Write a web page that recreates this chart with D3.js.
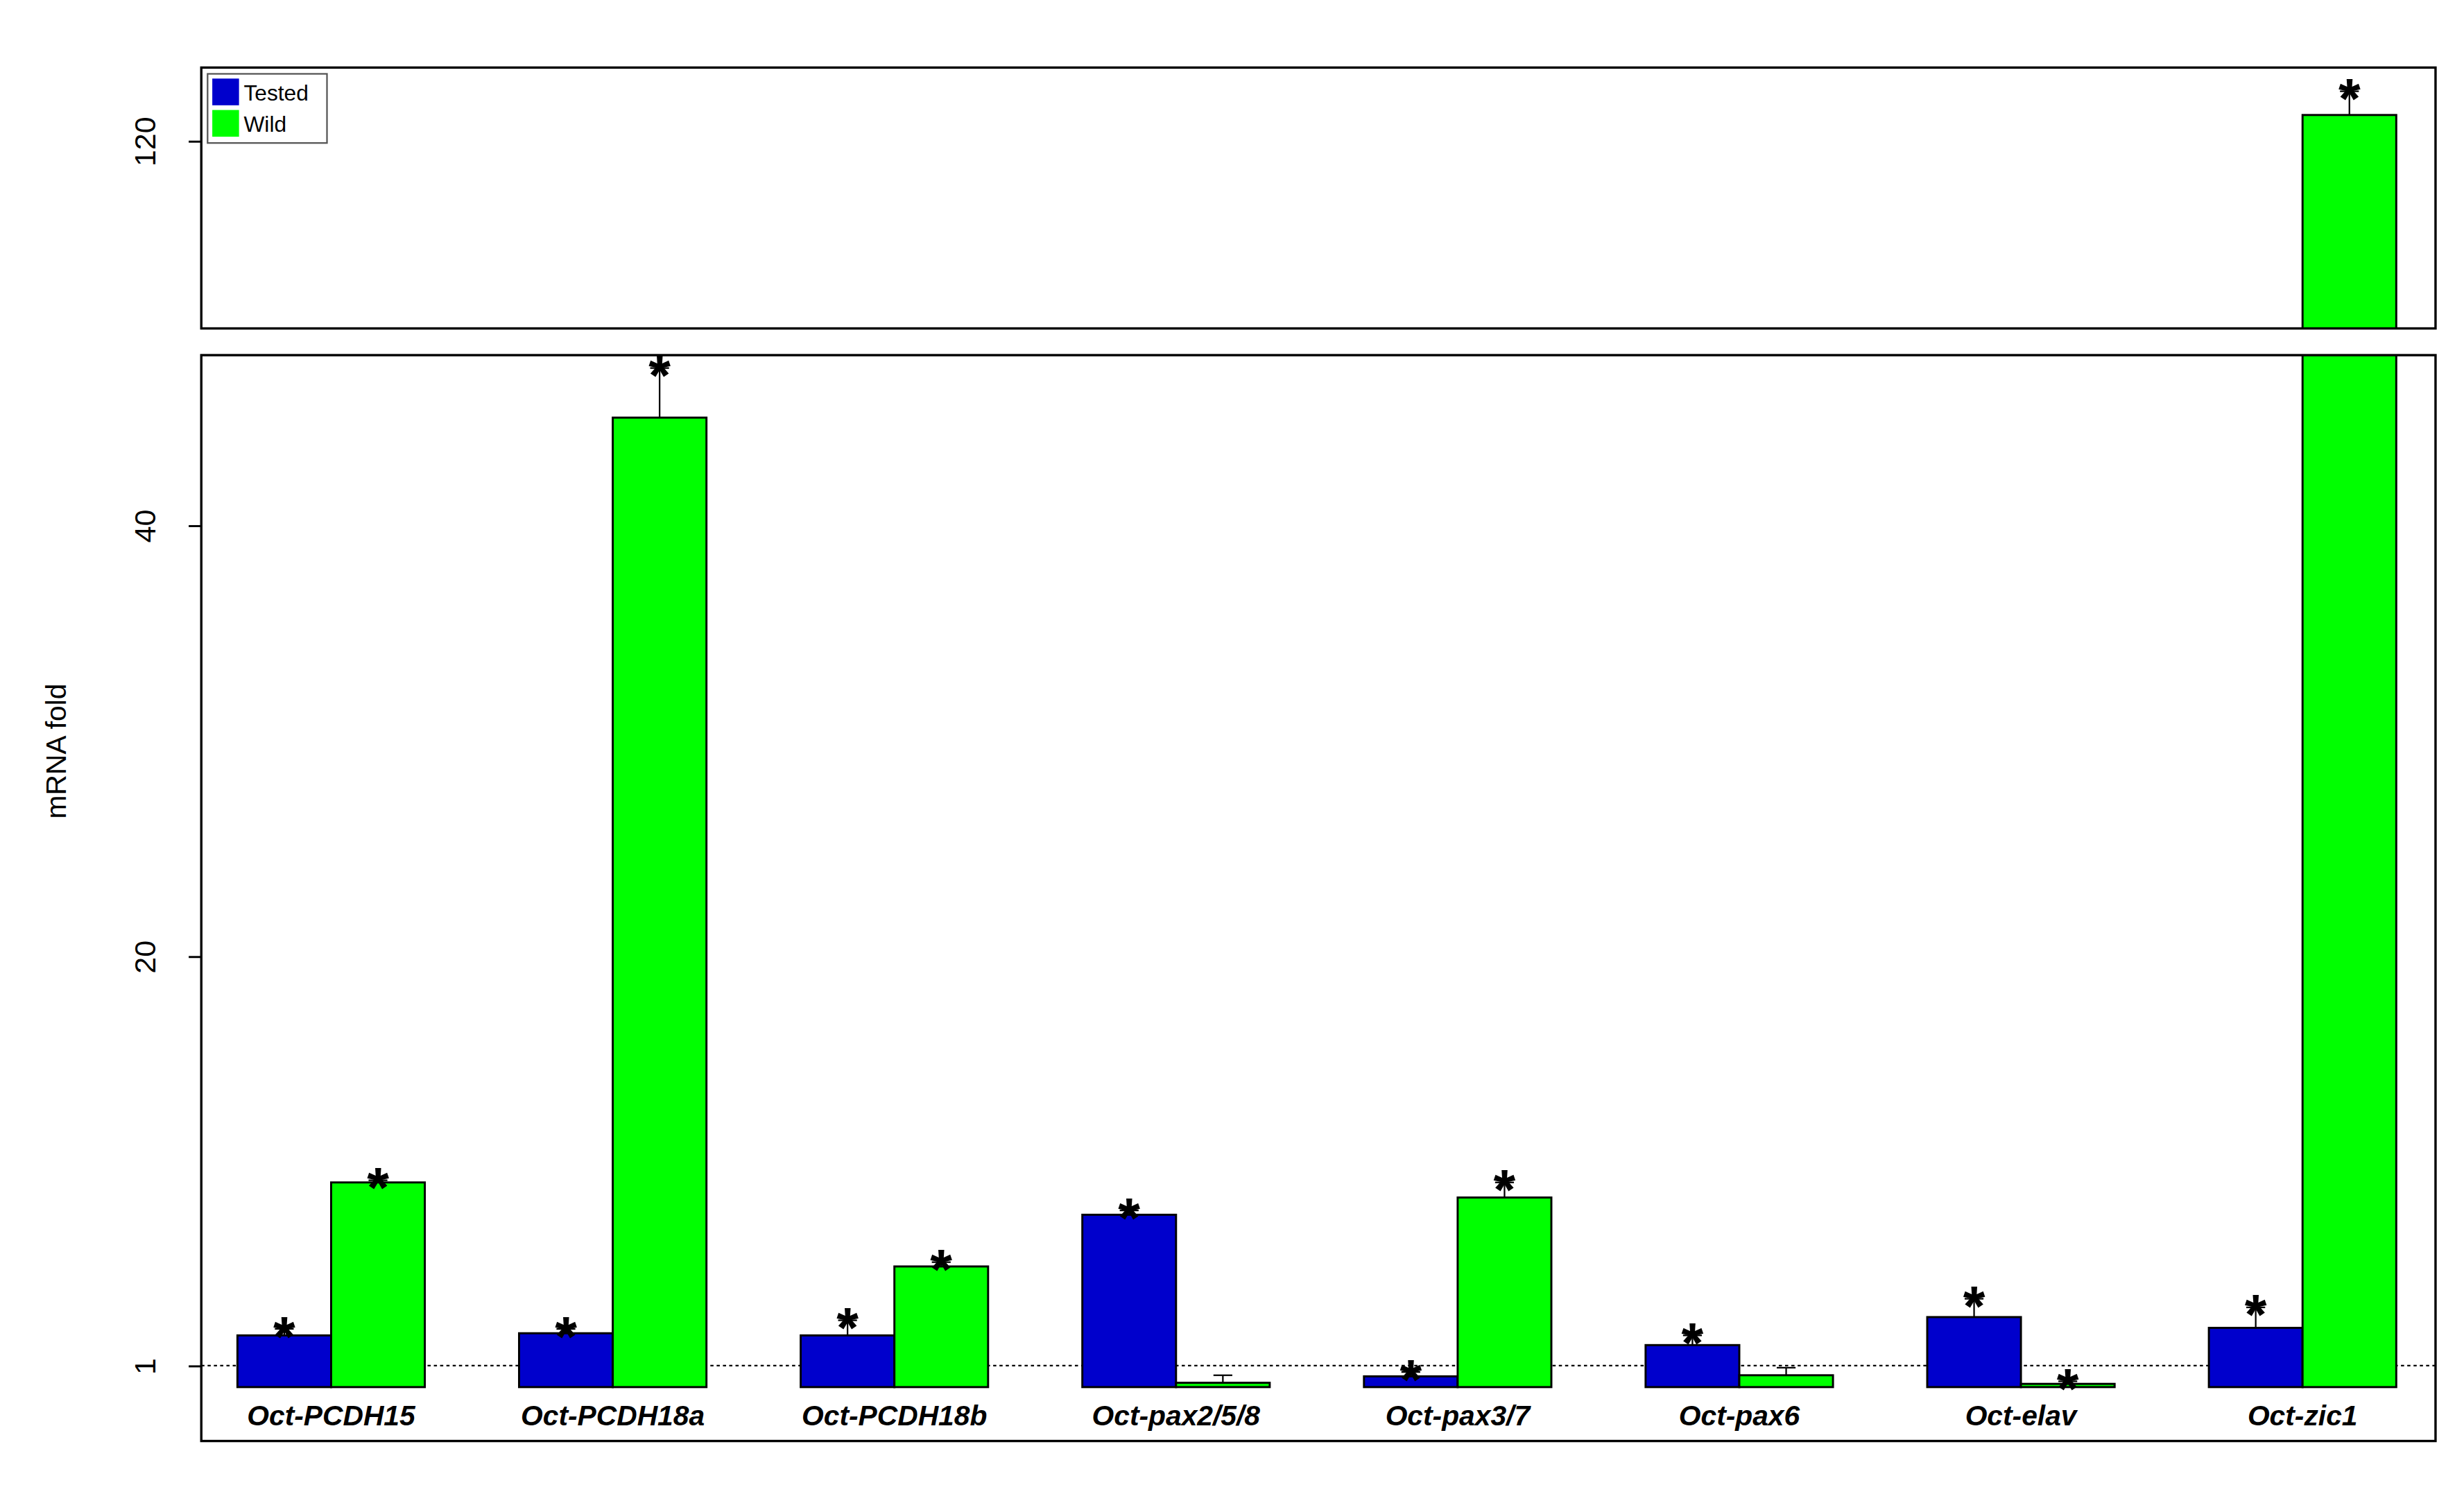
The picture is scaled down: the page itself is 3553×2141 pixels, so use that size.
<!DOCTYPE html>
<html>
<head>
<meta charset="utf-8">
<script src="https://cdn.jsdelivr.net/npm/d3@7"></script>
<style>
  body { margin: 0; background: #fff; }
  text { font-family: "Liberation Sans", Arial, sans-serif; }
</style>
</head>
<body>
<svg id="chart" width="3553" height="2141" viewBox="0 0 1568 945"></svg>
<script>
const genes = ['Oct-PCDH15', 'Oct-PCDH18a', 'Oct-PCDH18b', 'Oct-pax2/5/8', 'Oct-pax3/7', 'Oct-pax6', 'Oct-elav', 'Oct-zic1'];
const series = ['Tested', 'Wild'];
const colours = ['#0000cc', '#00ff00'];
const tested = [2.4, 2.5, 2.4, 8.0, 0.5, 1.95, 3.25, 2.75];
const testedErr = [0.3, 0.2, 0.7, 0.2, 0.2, 0.45, 0.85, 0.95];
const wild = [9.5, 45.0, 5.6, 0.2, 8.8, 0.55, 0.15, 121.2];
const wildErr = [0.1, 2.3, 0.2, 0.35, 0.7, 0.35, 0.12, 1.1];
const lowTicks = [1, 20, 40];
const highTicks = [120];

const svg = d3.select('#chart');
const left = 128, right = 1550;
const low = { top: 226, bottom: 917 }, high = { top: 43, bottom: 209 };

const x0 = d3.scaleBand().domain(genes).range([151, 1525])
  .paddingInner(60 / 179.3).paddingOuter(0);
const x1 = d3.scaleBand().domain(series).range([0, x0.bandwidth()]);

// lower panel: 0 at 882.7, 13.7 px per unit; upper panel same px per unit
const yLow = d3.scaleLinear().domain([0, 47.9]).range([882.7, low.top]);
const yHigh = d3.scaleLinear().domain([111.3, 123.4]).range([high.bottom, high.top]);

const data = genes.map((g, i) => ({
  gene: g,
  bars: [
    { s: 'Tested', v: tested[i], e: testedErr[i] },
    { s: 'Wild', v: wild[i], e: wildErr[i] }
  ]
}));

const defs = svg.append('defs');
defs.append('clipPath').attr('id', 'clipLow')
  .append('rect').attr('x', left).attr('y', low.top).attr('width', right - left).attr('height', low.bottom - low.top);
defs.append('clipPath').attr('id', 'clipHigh')
  .append('rect').attr('x', left).attr('y', high.top).attr('width', right - left).attr('height', high.bottom - high.top);

// dotted line at 1
svg.append('line')
  .attr('x1', left).attr('x2', right)
  .attr('y1', yLow(1)).attr('y2', yLow(1))
  .attr('stroke', '#000').attr('stroke-width', 1).attr('stroke-dasharray', '2,2');

function drawPanel(y, clip, isHigh) {
  const g = svg.append('g').attr('clip-path', `url(#${clip})`);
  const grp = g.selectAll('g.grp').data(data).enter().append('g')
    .attr('transform', d => `translate(${x0(d.gene)},0)`);
  grp.selectAll('rect').data(d => d.bars).enter().append('rect')
    .attr('x', d => x1(d.s))
    .attr('width', x1.bandwidth())
    .attr('y', d => y(d.v))
    .attr('height', d => Math.max(0, y(isHigh ? 111.3 : 0) - y(d.v)))
    .attr('fill', (d, i) => colours[i])
    .attr('stroke', '#000').attr('stroke-width', 1.3);
  const vis = b => isHigh ? b.v > 111.3 : b.v < 47.9;
  const err = grp.selectAll('g.err').data(d => d.bars.filter(vis)).enter().append('g')
    .attr('transform', d => `translate(${x1(d.s) + x1.bandwidth() / 2},0)`);
  err.append('line').attr('x1', 0).attr('x2', 0)
    .attr('y1', d => y(d.v)).attr('y2', d => y(d.v + d.e))
    .attr('stroke', '#000').attr('stroke-width', 1);
  err.append('line').attr('x1', -6).attr('x2', 6)
    .attr('y1', d => y(d.v + d.e)).attr('y2', d => y(d.v + d.e))
    .attr('stroke', '#000').attr('stroke-width', 1);
}
drawPanel(yLow, 'clipLow', false);
drawPanel(yHigh, 'clipHigh', true);

// asterisks
const stars = [];
data.forEach(d => d.bars.forEach(b => {
  const noStar = (d.gene === 'Oct-pax2/5/8' && b.s === 'Wild') || (d.gene === 'Oct-pax6' && b.s === 'Wild');
  if (noStar) return;
  const top = b.v + b.e;
  const y = top > 111.3 ? yHigh(top) : yLow(top);
  stars.push({ x: x0(d.gene) + x1(b.s) + x1.bandwidth() / 2, y });
}));
svg.selectAll('text.star').data(stars).enter().append('text')
  .attr('x', d => d.x).attr('y', d => d.y + 17)
  .attr('text-anchor', 'middle')
  .attr('font-size', 36).attr('font-weight', 'bold')
  .attr('font-family', 'DejaVu Sans, sans-serif')
  .text('*');

// frames
[low, high].forEach(p => svg.append('rect')
  .attr('x', left).attr('y', p.top).attr('width', right - left).attr('height', p.bottom - p.top)
  .attr('fill', 'none').attr('stroke', '#000').attr('stroke-width', 1.5));

// y axes
function yAxis(scale, ticks) {
  const g = svg.append('g').attr('transform', `translate(${left},0)`)
    .call(d3.axisLeft(scale).tickValues(ticks).tickSize(8).tickFormat(d3.format('d')));
  g.select('.domain').remove();
  g.selectAll('line').attr('stroke-width', 1.3);
  g.selectAll('text')
    .attr('font-size', 19).attr('font-family', 'Liberation Sans, Arial, sans-serif')
    .attr('x', -36).attr('y', 0).attr('dy', '0.35em')
    .attr('transform', 'rotate(-90, -36, 0)')
    .attr('text-anchor', 'middle');
}
yAxis(yLow, lowTicks);
yAxis(yHigh, highTicks);

svg.append('text')
  .attr('transform', 'translate(42,478) rotate(-90)')
  .attr('text-anchor', 'middle').attr('font-size', 18)
  .text('mRNA fold');

// category labels
svg.selectAll('text.cat').data(genes).enter().append('text')
  .attr('x', d => x0(d) + x0.bandwidth() / 2)
  .attr('y', 907)
  .attr('text-anchor', 'middle')
  .attr('font-size', 18).attr('font-weight', 'bold').attr('font-style', 'italic')
  .text(d => d);

// legend
const lg = svg.append('g').attr('transform', 'translate(132,47)');
lg.append('rect').attr('width', 76).attr('height', 44)
  .attr('fill', '#fff').attr('stroke', '#555').attr('stroke-width', 1);
series.forEach((s, i) => {
  lg.append('rect').attr('x', 3).attr('y', 3 + i * 20).attr('width', 17).attr('height', 17)
    .attr('fill', colours[i]);
  lg.append('text').attr('x', 23).attr('y', 17 + i * 20).attr('font-size', 14).text(s);
});
</script>
</body>
</html>
